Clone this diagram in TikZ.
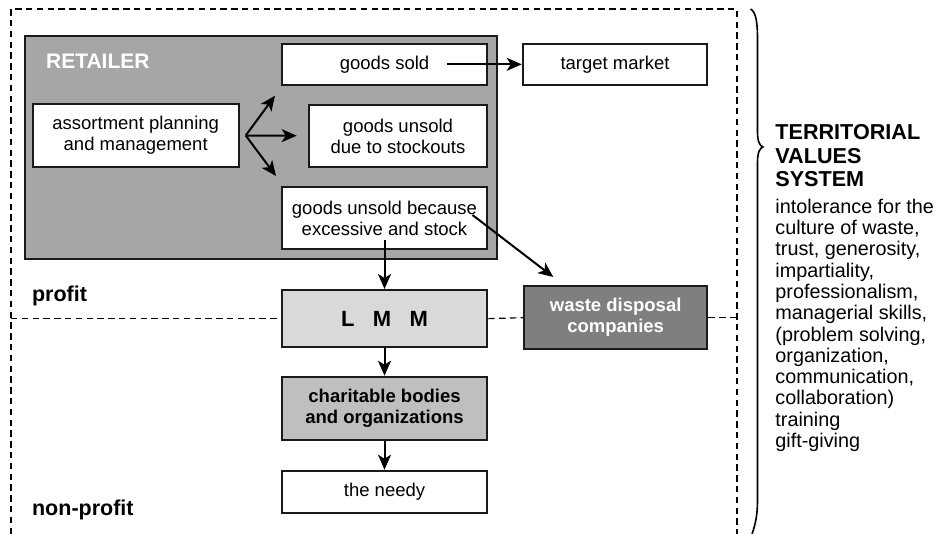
\documentclass[tikz,border=0pt]{standalone}
\usepackage{fontspec}
\setmainfont{Liberation Sans}
\usepackage{xcolor}
\usepackage{tikz}
\usetikzlibrary{arrows.meta,positioning,calc}
\definecolor{retailgrey}{HTML}{A6A6A6}
\definecolor{lmmgrey}{HTML}{D9D9D9}
\definecolor{charitygrey}{HTML}{BFBFBF}
\definecolor{wastegrey}{HTML}{7F7F7F}
\definecolor{edgegrey}{HTML}{1A1A1A}

\begin{document}
\begin{tikzpicture}[x=0.5pt, y=-0.5pt,
  box/.style={draw=edgegrey, rectangle, line width=1pt, fill=white, align=center, inner sep=0pt,
    minimum width=102.8pt, font=\fontsize{9.25pt}{10.5pt}\selectfont},
  boldbox/.style={box, font=\fontsize{9.25pt}{10.5pt}\selectfont\bfseries},
  retail/.style={draw=edgegrey, rectangle, line width=1pt, fill=retailgrey, inner sep=0pt,
    minimum width=235.85pt, minimum height=111.5pt},
  sidelabel/.style={inner sep=0pt, anchor=base west, font=\fontsize{10.75pt}{12pt}\selectfont\bfseries},
  frame/.style={line width=0.6pt, dash pattern=on 3.2pt off 2.2pt},
  arr/.style={-{Stealth[length=7.5pt, width=6.5pt, inset=2pt]}, line width=1pt},
  brace/.style={line width=0.8pt}
]
  \useasboundingbox (0,0) rectangle (935,534);

  % frame of the territory
  \coordinate (fbl) at (11,534);
  \coordinate (ftl) at (11,9);
  \coordinate (ftr) at (737,9);
  \coordinate (fbr) at (737,534);
  \draw[frame] (fbl) -- (ftl) -- (ftr) -- (fbr);

  % retailer
  \node[retail] (ret) at (260.85,147.2) {};
  \node[sidelabel, font=\fontsize{10.5pt}{12pt}\selectfont\bfseries, text=white] (retname) at (45.7,68.3) {RETAILER};
  \node[box, minimum height=31.8pt, minimum width=103pt] (plan) at (135.7,135.5) {assortment planning\\and management};
  \node[box, minimum height=20.65pt] (sold) at (384.5,64.35) {goods sold};
  \node[box, minimum height=31.15pt, minimum width=89.3pt] (stock) at (398,136.15) {goods unsold\\due to stockouts};
  \node[box, minimum height=31.3pt] (excess) at (384.5,218) {goods unsold because\\excessive and stock};
  \node[box, minimum height=20.65pt, minimum width=92.3pt] (market) at (615,64.35) {target market};

  % flows
  \node[boldbox, fill=lmmgrey, minimum height=28.65pt, font=\fontsize{11pt}{12pt}\selectfont\bfseries] (lmm) at (384.5,318.65) {L~~~M~~~M};
  \node[boldbox, fill=wastegrey, text=white, minimum height=31.65pt, minimum width=91.65pt] (waste) at (615.65,317.65) {waste disposal\\companies};
  \node[boldbox, fill=charitygrey, minimum height=31.65pt] (charity) at (384.5,408.35) {charitable bodies\\and organizations};
  \node[box, minimum height=21.3pt] (needy) at (384.5,492) {the needy};

  % profit / non-profit
  \node[sidelabel] (profit) at (31.7,301.7) {profit};
  \node[sidelabel] (nonprofit) at (31.7,515) {non-profit};
  \draw[frame] (ftl |- lmm.west) -- (lmm.west);
  \draw[frame] (lmm.east) -- (waste.west);
  \draw[frame] (waste.east) -- (waste.east -| ftr);

  % arrows
  \coordinate (fanup) at (275,95.7);
  \coordinate (fanmid) at (296.7,135.7);
  \coordinate (fandown) at (276,176);
  \draw[arr] ([xshift=3pt]plan.east) -- (fanup);
  \draw[arr] ([xshift=3pt]plan.east) -- (fanmid);
  \draw[arr] ([xshift=3pt]plan.east) -- (fandown);
  \draw[arr] ([xshift=31.1pt]sold.center) -- (market.west);
  \draw[arr] ([yshift=-11pt]excess.center) -- (lmm.north);
  \draw[arr] ([xshift=44pt,yshift=1.5pt]excess.center) -- ([xshift=-31.2pt,yshift=4pt]waste.north);
  \draw[arr] (lmm.south) -- (charity.north);
  \draw[arr] (charity.south) -- (needy.north);

  % territorial values
  \draw[brace] (750.5,9) .. controls (756,12) and (757.5,22) .. (757.5,40)
    -- (757.5,132) .. controls (757.5,142) and (760,146) .. (763,147)
    .. controls (760,148) and (757.5,152) .. (757.5,162)
    -- (757.5,500) .. controls (757.5,515) and (755.5,524) .. (752,534);
  \node[inner sep=0pt, anchor=north west, align=left, font=\fontsize{10.8pt}{11.85pt}\selectfont\bfseries] (title) at (775,124)
    {TERRITORIAL\\VALUES\\SYSTEM};
  \node[inner sep=0pt, below=5.5pt of title.south west, anchor=north west, align=left, font=\fontsize{9.9pt}{10.65pt}\selectfont] (values)
    {intolerance for the\\culture of waste,\\trust, generosity,\\impartiality,\\professionalism,\\managerial skills,\\(problem solving,\\organization,\\communication,\\collaboration)\\training\\gift-giving};

\end{tikzpicture}
\end{document}
